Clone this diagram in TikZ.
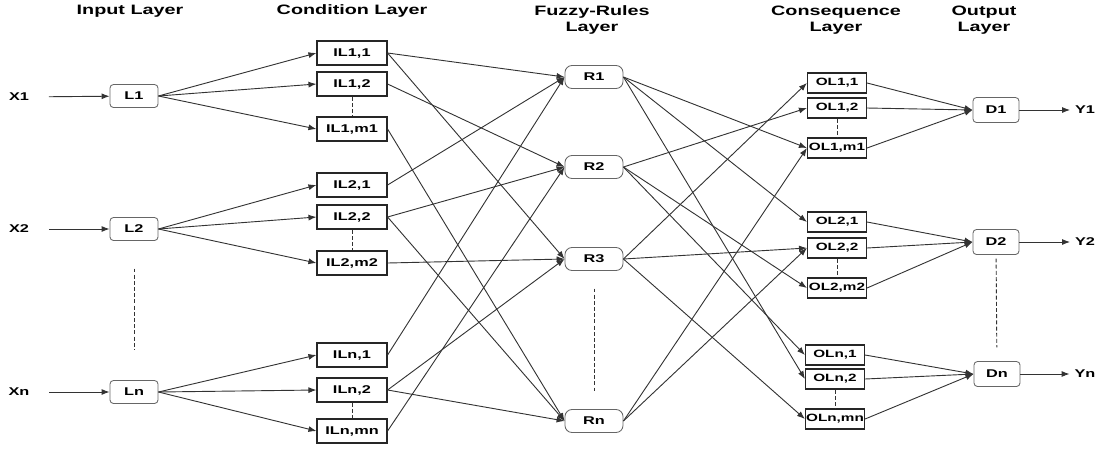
\documentclass[tikz,border=0pt]{standalone}
\usepackage{fontspec}
\setmainfont{Liberation Sans}[FakeStretch=1.45]
\usetikzlibrary{arrows.meta}
\begin{document}
\begin{tikzpicture}[x=0.025cm,y=-0.025cm,>={Latex[length=2mm,width=1.5mm]},
	every node/.style={font=\bfseries\fontsize{8}{9.6}\selectfont},
	wire/.style={draw=black!80,line width=0.65pt},
	skipline/.style={draw=black!80,line width=0.65pt,dash pattern=on 2.8pt off 1.6pt},
	inbox/.style={draw=black!60,line width=0.6pt,rounded corners=2.5pt,minimum width=1.2cm,minimum height=0.575cm,inner sep=0pt},
	ilbox/.style={draw=black!85,line width=0.8pt,minimum width=1.75cm,minimum height=0.6cm,inner sep=0pt},
	rulebox/.style={draw=black!60,line width=0.6pt,rounded corners=5pt,minimum width=1.45cm,minimum height=0.575cm,inner sep=0pt},
	olbox/.style={draw=black!85,line width=0.8pt,minimum width=1.475cm,minimum height=0.5cm,inner sep=0pt,font=\bfseries\fontsize{7.5}{9}\selectfont},
	outbox/.style={inbox,minimum width=1.15cm,minimum height=0.625cm},
	title/.style={align=center,font=\bfseries\fontsize{9.7}{11.5}\selectfont}]
	\useasboundingbox (0,0) rectangle (1100,450);
	% layer titles
	\node[title] (tin) at (130,11) {Input Layer};
	\node[title] (tcond) at (352,11) {Condition Layer};
	\node[title] (trule) at (592,20) {Fuzzy-Rules\\Layer};
	\node[title] (tcons) at (836,20) {Consequence\\Layer};
	\node[title] (tout) at (984,20) {Output\\Layer};
	% inputs
	\node (X1) at (19,97) {X1};
	\node (X2) at (19,229) {X2};
	\node (Xn) at (19,392) {Xn};
	\node[inbox] (L1) at (134,96) {L1};
	\node[inbox] (L2) at (134,229) {L2};
	\node[inbox] (Ln) at (134,392) {Ln};
	% condition layer
	\node[ilbox] (IL11) at (352,53) {IL1,1};
	\node[ilbox] (IL12) at (352,84) {IL1,2};
	\node[ilbox] (IL1m) at (352,129) {IL1,m1};
	\node[ilbox] (IL21) at (352,185) {IL2,1};
	\node[ilbox] (IL22) at (352,217) {IL2,2};
	\node[ilbox] (IL2m) at (352,263) {IL2,m2};
	\node[ilbox] (ILn1) at (352,355) {ILn,1};
	\node[ilbox] (ILn2) at (352,390) {ILn,2};
	\node[ilbox] (ILnm) at (352,431) {ILn,mn};
	% rules
	\node[rulebox] (R1) at (594,77) {R1};
	\node[rulebox] (R2) at (594,167) {R2};
	\node[rulebox] (R3) at (594,259) {R3};
	\node[rulebox] (Rn) at (594,421) {Rn};
	% consequence layer
	\node[olbox] (OL11) at (837,83) {OL1,1};
	\node[olbox] (OL12) at (837,108) {OL1,2};
	\node[olbox] (OL1m) at (837,148) {OL1,m1};
	\node[olbox] (OL21) at (837,222) {OL2,1};
	\node[olbox] (OL22) at (837,248) {OL2,2};
	\node[olbox] (OL2m) at (837,288) {OL2,m2};
	\node[olbox] (OLn1) at (835,355) {OLn,1};
	\node[olbox] (OLn2) at (835,379) {OLn,2};
	\node[olbox] (OLnm) at (835,419) {OLn,mn};
	% outputs
	\node[outbox] (D1) at (996,110) {D1};
	\node[outbox] (D2) at (996,242) {D2};
	\node[outbox] (Dn) at (997,374) {Dn};
	\node (Y1) at (1085,110) {Y1};
	\node (Y2) at (1085,242) {Y2};
	\node (Yn) at (1085,374) {Yn};
	% input arrows
	\draw[wire,->,shorten <=0.375cm] (X1) -- (L1);
	\draw[wire,->,shorten <=0.375cm] (X2) -- (L2);
	\draw[wire,->,shorten <=0.375cm] (Xn) -- (Ln);
	\draw[wire,->] (L1.east) -- (IL11.west);
	\draw[wire,->] (L1.east) -- (IL12.west);
	\draw[wire,->] (L1.east) -- (IL1m.west);
	\draw[wire,->] (L2.east) -- (IL21.west);
	\draw[wire,->] (L2.east) -- (IL22.west);
	\draw[wire,->] (L2.east) -- (IL2m.west);
	\draw[wire,->] (Ln.east) -- (ILn1.west);
	\draw[wire,->] (Ln.east) -- (ILn2.west);
	\draw[wire,->] (Ln.east) -- (ILnm.west);
	% condition to rules
	\draw[wire,->] (IL11.east) -- (R1.west);
	\draw[wire,->] (IL11.east) -- (R3.west);
	\draw[wire,->] (IL12.east) -- (R2.west);
	\draw[wire,->] (IL1m.east) -- (Rn.west);
	\draw[wire,->] (IL21.east) -- (R1.west);
	\draw[wire,->] (IL22.east) -- (R2.west);
	\draw[wire,->] (IL22.east) -- (Rn.west);
	\draw[wire,->] (IL2m.east) -- (R3.west);
	\draw[wire,->] (ILn1.east) -- (R1.west);
	\draw[wire,->] (ILn2.east) -- (R3.west);
	\draw[wire,->] (ILn2.east) -- (Rn.west);
	\draw[wire,->] (ILnm.east) -- (R2.west);
	% rules to consequence
	\draw[wire,->] (R1.east) -- (OL1m.west);
	\draw[wire,->] (R1.east) -- (OL21.west);
	\draw[wire,->] (R1.east) -- (OLn2.west);
	\draw[wire,->] (R2.east) -- (OL12.west);
	\draw[wire,->] (R2.east) -- (OL2m.west);
	\draw[wire,->] (R2.east) -- (OLn1.west);
	\draw[wire,->] (R3.east) -- (OL11.west);
	\draw[wire,->] (R3.east) -- (OL22.west);
	\draw[wire,->] (R3.east) -- (OLnm.west);
	\draw[wire,->] (Rn.east) -- (OL1m.west);
	\draw[wire,->] (Rn.east) -- (OL22.west);
	% consequence to outputs
	\draw[wire,->] (OL11.east) -- (D1.west);
	\draw[wire,->] (OL12.east) -- (D1.west);
	\draw[wire,->] (OL1m.east) -- (D1.west);
	\draw[wire,->] (OL21.east) -- (D2.west);
	\draw[wire,->] (OL22.east) -- (D2.west);
	\draw[wire,->] (OL2m.east) -- (D2.west);
	\draw[wire,->] (OLn1.east) -- (Dn.west);
	\draw[wire,->] (OLn2.east) -- (Dn.west);
	\draw[wire,->] (OLnm.east) -- (Dn.west);
	\draw[wire,->] (D1) -- (Y1);
	\draw[wire,->] (D2) -- (Y2);
	\draw[wire,->] (Dn) -- (Yn);
	% dashed gaps
	\draw[skipline] (IL12) -- (IL1m);
	\draw[skipline] (IL22) -- (IL2m);
	\draw[skipline] (ILn2) -- (ILnm);
	\draw[skipline] (OL12) -- (OL1m);
	\draw[skipline] (OL22) -- (OL2m);
	\draw[skipline] (OLn2) -- (OLnm);
	\draw[skipline,shorten <=0.69cm,shorten >=0.76cm] (L2) -- (Ln);
	\draw[skipline,shorten <=0.44cm,shorten >=0.44cm] (R3) -- (Rn);
	\draw[skipline,shorten <=0.09cm,shorten >=0.34cm] (D2) -- (Dn);
\end{tikzpicture}
\end{document}
